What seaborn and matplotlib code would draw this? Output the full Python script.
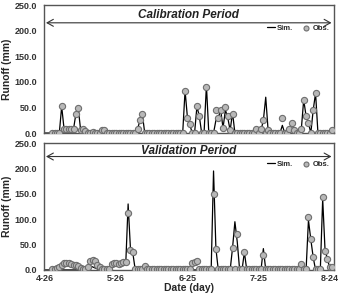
import numpy as np
import pandas as pd
import matplotlib.pyplot as plt
import seaborn as sns

# Day index 0 = 4-26
n_days = 122
tick_days = [0, 30, 60, 90, 120]
tick_labels = ["4-26", "5-26", "6-25", "7-25", "8-24"]
y_ticks = [0, 50, 100, 150, 200, 250]

# Calibration period (non-zero days only)
cal_sim_days = [7, 8, 9, 10, 11, 12, 13, 14, 15, 16, 17, 20, 24, 25, 39, 40, 41,
                59, 60, 61, 64, 65, 68, 72, 73, 74, 75, 76, 77, 78, 79,
                89, 91, 92, 93, 94, 100, 103, 104, 105, 108, 109, 110, 111,
                113, 114, 121]
cal_sim_vals = [52, 8, 8, 8, 8, 8, 38, 48, 5, 7, 4, 3, 5, 5, 8, 25, 37,
                83, 30, 17, 52, 33, 93, 25, 30, 45, 10, 45, 30, 5, 40,
                5, 5, 25, 70, 5, 15, 8, 20, 5, 8, 65, 33, 20,
                45, 78, 5]
cal_obs_days = [7, 8, 9, 10, 11, 12, 13, 14, 15, 16, 17, 20, 24, 25, 39, 40, 41,
                59, 60, 61, 64, 65, 68, 72, 73, 74, 75, 76, 77, 78, 79,
                89, 91, 92, 94, 100, 103, 104, 105, 108, 109, 110, 111,
                113, 114, 121]
cal_obs_vals = [52, 8, 8, 8, 8, 8, 38, 48, 5, 7, 4, 3, 5, 5, 8, 25, 37,
                83, 30, 17, 52, 33, 90, 45, 30, 45, 10, 50, 33, 5, 38,
                8, 8, 25, 5, 30, 8, 20, 5, 8, 65, 33, 20,
                45, 78, 5]

# Validation period (non-zero days only)
val_sim_days = [17, 18, 19, 20, 21, 22, 28, 29, 30, 31, 32, 33, 34, 35, 36, 37,
                71, 72, 79, 80, 81, 84, 92, 108, 111, 112, 113, 117, 118, 119, 120]
val_sim_vals = [2, 5, 8, 6, 4, 2, 5, 8, 9, 9, 10, 10, 12, 130, 40, 33,
                195, 42, 43, 95, 55, 35, 42, 5, 98, 60, 25, 140, 38, 22, 3]
val_obs_days = [4, 5, 6, 7, 8, 9, 10, 11, 12, 13, 14, 15, 18, 19, 20, 21, 22, 23,
                28, 29, 30, 31, 32, 33, 34, 35, 36, 37, 42, 62, 63, 64,
                71, 72, 79, 81, 84, 92, 108, 111, 112, 113, 117, 118, 119, 120, 121]
val_obs_vals = [1, 3, 6, 10, 13, 14, 13, 11, 10, 9, 7, 4, 5, 18, 20, 17, 10, 5,
                12, 13, 13, 12, 14, 15, 15, 112, 40, 35, 7, 13, 15, 17,
                150, 42, 43, 70, 35, 30, 12, 105, 60, 25, 143, 38, 22, 5, 5]

days = np.arange(n_days)


def build(sim_days, sim_vals, obs_days, obs_vals):
    sim = np.zeros(n_days)
    sim[sim_days] = sim_vals
    obs = np.full(n_days, 1.0)
    obs[:3] = np.nan
    obs[obs_days] = obs_vals
    return pd.DataFrame({"day": days, "Sim.": sim, "Obs.": obs})


sns.set_style("white")
plt.rcParams['font.family'] = ['Liberation Sans', 'DejaVu Sans']
plt.rcParams['font.weight'] = 'bold'

fig = plt.figure(figsize=(3.41, 2.95), dpi=100)
ax1 = fig.add_axes([0.128, 0.549, 0.851, 0.434])
ax2 = fig.add_axes([0.128, 0.085, 0.851, 0.430])

panels = [
    (ax1, build(cal_sim_days, cal_sim_vals, cal_obs_days, cal_obs_vals),
     "Calibration Period", 0.922, 0.861, 0.82),
    (ax2, build(val_sim_days, val_sim_vals, val_obs_days, val_obs_vals),
     "Validation Period", 0.94, 0.894, 0.834),
]

for ax, df, title, ty, ay, ly in panels:
    sns.lineplot(data=df, x="day", y="Sim.", ax=ax, color="black", lw=0.9,
                 label="Sim.", zorder=2)
    sns.scatterplot(data=df, x="day", y="Obs.", ax=ax, marker="o", s=20,
                    facecolor="#b8b8b8", edgecolor="#6e6e6e", linewidth=0.8,
                    label="Obs.", zorder=3)
    ax.set_xlim(-0.6, 121.7)
    ax.set_ylim(0, 250)
    ax.set_yticks(y_ticks)
    ax.set_yticklabels([f"{v:.1f}" for v in y_ticks], fontsize=6.5, fontweight='bold')
    ax.set_xticks(tick_days)
    ax.tick_params(axis='y', length=0, pad=4.5, colors='#333333')
    ax.tick_params(axis='x', length=0, pad=3, colors='#333333')
    for sp in ax.spines.values():
        sp.set_color('#555555')
        sp.set_linewidth(1.0)
    ax.text(0.5, ty, title, transform=ax.transAxes, ha='center', va='center',
            fontsize=8.5, fontweight='bold', style='italic', color='#222222')
    ax.annotate("", xy=(0.008, ay), xytext=(0.992, ay), xycoords='axes fraction',
                arrowprops=dict(arrowstyle="<->, head_length=0.45, head_width=0.25",
                                color='#333333', lw=0.8, shrinkA=0, shrinkB=0))
    ax.legend(loc='center right', bbox_to_anchor=(1.0, ly), ncol=2, frameon=False,
              fontsize=5.5, handlelength=1.0, handletextpad=0.3,
              columnspacing=1.2, borderaxespad=0.2, markerscale=0.8)
    ax.set_ylabel("")
    # y label placed at a fixed figure x so it is not clipped
    ax.text(-0.125, 0.5, "Runoff (mm)", transform=ax.transAxes, rotation=90,
            ha='center', va='center', fontsize=7.5, fontweight='bold')

ax1.set_xlabel("")
ax1.set_xticklabels([])
ax2.set_xticklabels(tick_labels, fontsize=6.5, fontweight='bold')
ax2.set_xlabel("Date (day)", fontsize=7.5, fontweight='bold', labelpad=0)

fig.savefig("out.png", dpi=100)
